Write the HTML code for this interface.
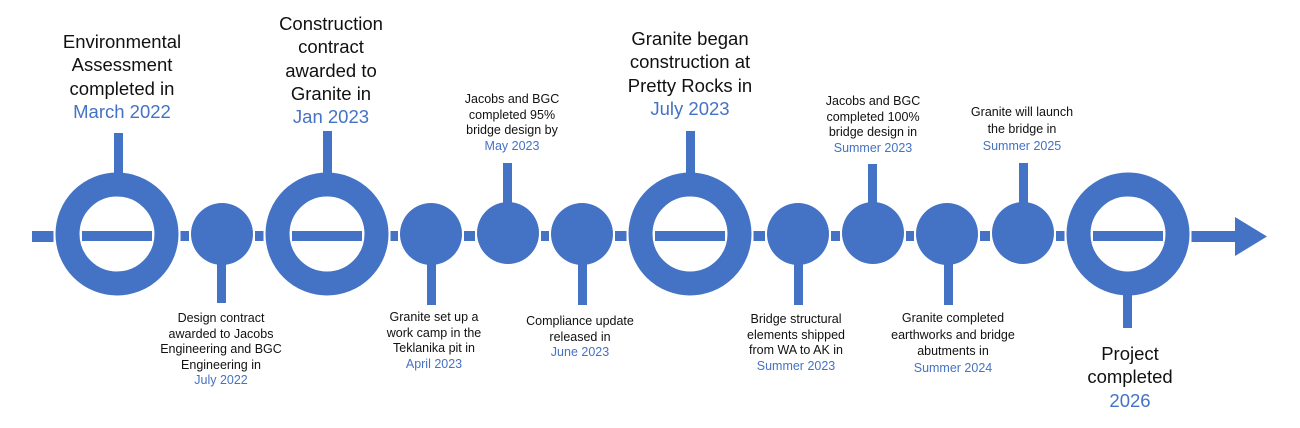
<!DOCTYPE html>
<html><head><meta charset="utf-8"><style>
html,body{margin:0;padding:0;background:#fff}
body{width:1300px;height:428px;position:relative;overflow:hidden;font-family:"Liberation Sans",sans-serif}
.t{position:absolute;transform:translateX(-50%);text-align:center;white-space:nowrap;color:#111}
.b{font-size:18.5px;line-height:23.3px}
.s{font-size:12.5px;line-height:15.5px}
.y{color:#4472C4}
svg{position:absolute;left:0;top:0}
</style></head><body>
<svg width="1300" height="428" viewBox="0 0 1300 428">
<g fill="#4472C4">
<rect x="32" y="231" width="21.5" height="11"/>
<rect x="180.5" y="231" width="8.5" height="10"/>
<rect x="255" y="231" width="8.5" height="10"/>
<rect x="390.5" y="231" width="7.5" height="10"/>
<rect x="464" y="231" width="11" height="10"/>
<rect x="541" y="231" width="8" height="10"/>
<rect x="615" y="231" width="11.5" height="10"/>
<rect x="753.5" y="231" width="11.5" height="10"/>
<rect x="831" y="231" width="9" height="10"/>
<rect x="906" y="231" width="8" height="10"/>
<rect x="980" y="231" width="10" height="10"/>
<rect x="1056" y="231" width="8.5" height="10"/>
<rect x="1191.5" y="231" width="45" height="11"/>
<polygon points="1235,217 1267,236.5 1235,256"/>
<rect x="114" y="133" width="9" height="60"/>
<rect x="217" y="240" width="9" height="63"/>
<rect x="323" y="131" width="9" height="60"/>
<rect x="427" y="240" width="9" height="65"/>
<rect x="503" y="163" width="9" height="50"/>
<rect x="578" y="240" width="9" height="65"/>
<rect x="686" y="131" width="9" height="60"/>
<rect x="794" y="240" width="9" height="65"/>
<rect x="868" y="164" width="9" height="50"/>
<rect x="944" y="240" width="9" height="65"/>
<rect x="1019" y="163" width="9" height="50"/>
<rect x="1123" y="280" width="9" height="48"/>
</g>
<g fill="none" stroke="#4472C4" stroke-width="24">
<circle cx="117" cy="234" r="49.5"/>
<circle cx="327" cy="234" r="49.5"/>
<circle cx="690" cy="234" r="49.5"/>
<circle cx="1128" cy="234" r="49.5"/>
</g>
<g fill="#4472C4">
<rect x="82" y="231" width="70" height="10"/>
<rect x="292" y="231" width="70" height="10"/>
<rect x="655" y="231" width="70" height="10"/>
<rect x="1093" y="231" width="70" height="10"/>
<circle cx="222" cy="234" r="31"/>
<circle cx="431" cy="234" r="31"/>
<circle cx="508" cy="233" r="31"/>
<circle cx="582" cy="234" r="31"/>
<circle cx="798" cy="234" r="31"/>
<circle cx="873" cy="233" r="31"/>
<circle cx="947" cy="234" r="31"/>
<circle cx="1023" cy="233" r="31"/>
</g>
</svg>

<div class="t b" style="left:122px;top:30px">Environmental<br>Assessment<br>completed in<br><span class="y">March 2022</span></div>
<div class="t b" style="left:331px;top:12px">Construction<br>contract<br>awarded to<br>Granite in<br><span class="y">Jan 2023</span></div>
<div class="t b" style="left:690px;top:27px">Granite began<br>construction at<br>Pretty Rocks in<br><span class="y">July 2023</span></div>
<div class="t b" style="left:1130px;top:342px">Project<br>completed<br><span class="y">2026</span></div>

<div class="t s" style="left:221px;top:311px">Design contract<br>awarded to Jacobs<br>Engineering and BGC<br>Engineering in<br><span class="y">July 2022</span></div>
<div class="t s" style="left:434px;top:310px">Granite set up a<br>work camp in the<br>Teklanika pit in<br><span class="y">April 2023</span></div>
<div class="t s" style="left:512px;top:92px">Jacobs and BGC<br>completed 95%<br>bridge design by<br><span class="y">May 2023</span></div>
<div class="t s" style="left:580px;top:314px">Compliance update<br>released in<br><span class="y">June 2023</span></div>
<div class="t s" style="left:796px;top:312px">Bridge structural<br>elements shipped<br>from WA to AK in<br><span class="y">Summer 2023</span></div>
<div class="t s" style="left:873px;top:94px">Jacobs and BGC<br>completed 100%<br>bridge design in<br><span class="y">Summer 2023</span></div>
<div class="t s" style="left:953px;top:310px;line-height:16.5px">Granite completed<br>earthworks and bridge<br>abutments in<br><span class="y">Summer 2024</span></div>
<div class="t s" style="left:1022px;top:104px;line-height:17px">Granite will launch<br>the bridge in<br><span class="y">Summer 2025</span></div>
</body></html>
